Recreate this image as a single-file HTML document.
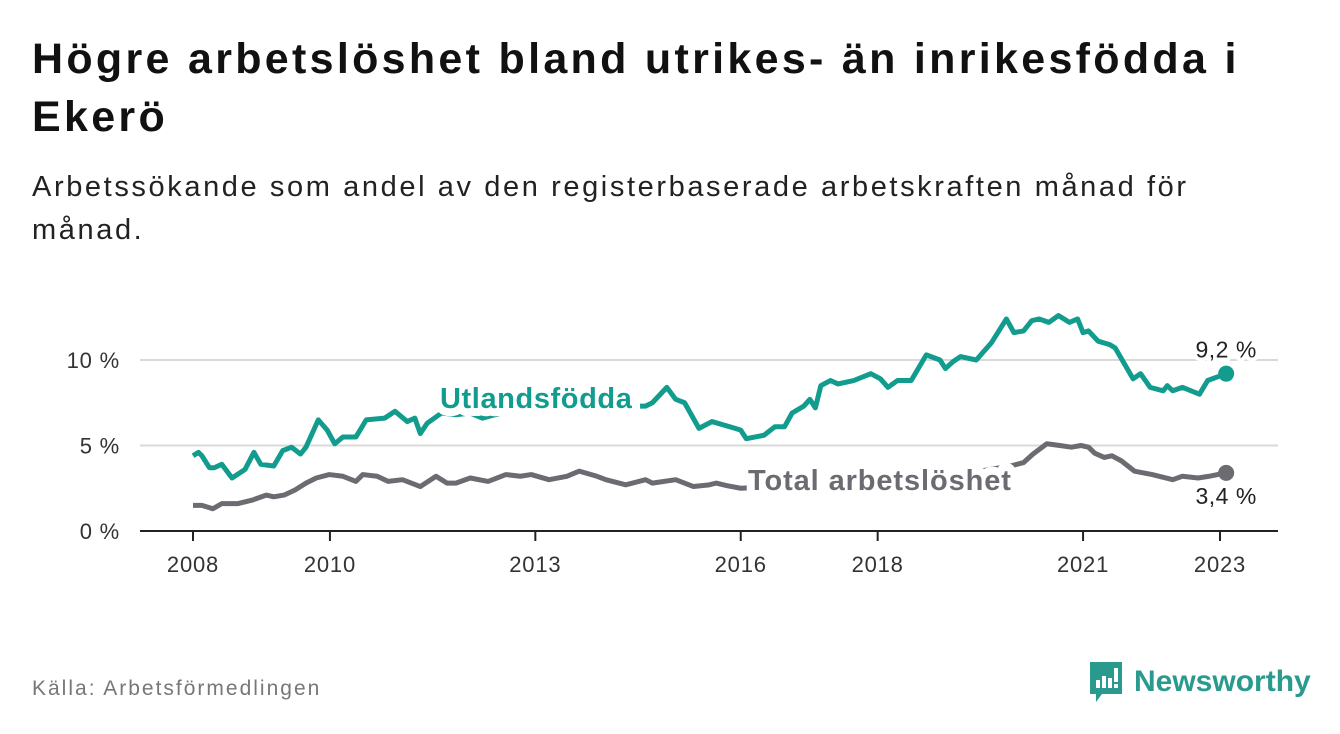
<!DOCTYPE html>
<html><head><meta charset="utf-8">
<style>
body{margin:0;background:#fff;width:1340px;height:734px;overflow:hidden;font-family:"Liberation Sans","DejaVu Sans",sans-serif;}
.t{position:absolute;left:32px;top:30px;font-size:43px;font-weight:bold;color:#111;line-height:58px;width:1300px;letter-spacing:3.3px;white-space:nowrap;}
.s{position:absolute;left:32px;top:166px;font-size:29px;color:#222;line-height:43px;width:1300px;letter-spacing:2.6px;white-space:nowrap;}
.src{position:absolute;left:32px;top:677px;font-size:21px;color:#777;letter-spacing:2px;}
.logo{position:absolute;left:1088px;top:660px;display:flex;align-items:center;}
</style></head><body>
<div class="t">Högre arbetslöshet bland utrikes- än inrikesfödda i<br>Ekerö</div>
<div class="s">Arbetssökande som andel av den registerbaserade arbetskraften månad för<br>månad.</div>
<div class="src">Källa: Arbetsförmedlingen</div>
<div class="logo">
<svg width="36" height="44"><path d="M2 2h32v32H14l-6 8v-8H2z" fill="#2a9a8f"/><rect x="8" y="20" width="4" height="8" fill="#fff"/><rect x="14" y="16" width="4" height="12" fill="#fff"/><rect x="20" y="18" width="4" height="10" fill="#fff"/><rect x="26" y="8" width="4" height="14" fill="#fff"/><rect x="26" y="24" width="4" height="4" fill="#fff"/></svg>
<span style="font-size:30px;font-weight:bold;color:#2a9a8f;margin-left:10px">Newsworthy</span></div>
<svg id="c" width="1340" height="734" style="position:absolute;left:0;top:0"></svg>
<script>
const yTicks=[0,5,10];
const yTickLabels=["0 %","5 %","10 %"];
const xTicks=[2008,2010,2013,2016,2018,2021,2023];
const foreignDates=[2008.0,2008.08,2008.13,2008.24,2008.31,2008.42,2008.57,2008.76,2008.89,2008.99,2009.18,2009.31,2009.44,2009.57,2009.65,2009.83,2009.96,2010.07,2010.19,2010.38,2010.53,2010.8,2010.95,2011.13,2011.24,2011.32,2011.42,2011.63,2011.84,2012.05,2012.23,2012.41,2012.7,2013.1,2013.5,2013.9,2014.3,2014.61,2014.71,2014.92,2015.05,2015.18,2015.39,2015.58,2015.92,2016.0,2016.08,2016.34,2016.5,2016.64,2016.75,2016.92,2017.01,2017.09,2017.17,2017.31,2017.42,2017.65,2017.9,2018.04,2018.15,2018.29,2018.49,2018.71,2018.91,2018.99,2019.1,2019.21,2019.44,2019.66,2019.88,2019.99,2020.13,2020.25,2020.36,2020.5,2020.64,2020.8,2020.92,2021.0,2021.08,2021.22,2021.39,2021.47,2021.73,2021.84,2021.98,2022.17,2022.23,2022.31,2022.45,2022.7,2022.82,2023.09];
const foreignValues=[4.4,4.6,4.4,3.7,3.7,3.9,3.1,3.6,4.6,3.9,3.8,4.7,4.9,4.5,4.9,6.5,5.9,5.1,5.5,5.5,6.5,6.6,7.0,6.4,6.6,5.7,6.3,6.9,6.8,6.9,6.6,6.8,7.1,7.3,7.2,7.4,7.3,7.3,7.5,8.4,7.7,7.5,6.0,6.4,6.0,5.9,5.4,5.6,6.1,6.1,6.9,7.3,7.7,7.2,8.5,8.8,8.6,8.8,9.2,8.9,8.4,8.8,8.8,10.3,10.0,9.5,9.9,10.2,10.0,11.0,12.4,11.6,11.7,12.3,12.4,12.2,12.6,12.2,12.4,11.6,11.7,11.1,10.9,10.7,8.9,9.2,8.4,8.2,8.5,8.2,8.4,8.0,8.8,9.2];
const totalDates=[2008.0,2008.13,2008.29,2008.42,2008.65,2008.86,2009.07,2009.18,2009.33,2009.49,2009.65,2009.8,2009.99,2010.19,2010.38,2010.48,2010.69,2010.85,2011.06,2011.32,2011.55,2011.71,2011.84,2012.05,2012.31,2012.57,2012.78,2012.94,2013.2,2013.46,2013.64,2013.9,2014.03,2014.32,2014.61,2014.71,2015.05,2015.31,2015.54,2015.64,2015.8,2016.0,2016.5,2017.0,2017.5,2018.0,2018.5,2019.0,2019.5,2019.94,2020.13,2020.27,2020.47,2020.66,2020.83,2020.97,2021.08,2021.17,2021.31,2021.42,2021.56,2021.75,2022.01,2022.31,2022.45,2022.68,2022.84,2023.09];
const totalValues=[1.5,1.5,1.3,1.6,1.6,1.8,2.1,2.0,2.1,2.4,2.8,3.1,3.3,3.2,2.9,3.3,3.2,2.9,3.0,2.6,3.2,2.8,2.8,3.1,2.9,3.3,3.2,3.3,3.0,3.2,3.5,3.2,3.0,2.7,3.0,2.8,3.0,2.6,2.7,2.8,2.65,2.5,2.6,2.6,2.7,2.9,3.0,3.2,3.5,3.8,4.0,4.5,5.1,5.0,4.9,5.0,4.9,4.55,4.3,4.4,4.1,3.5,3.3,3.0,3.2,3.1,3.2,3.4];
const NS="http://www.w3.org/2000/svg",svg=document.getElementById('c');
const x=d=>193+(d-2008)*(1220-193)/15;
const y=v=>531-v*17.1;
function mk(t,a,p){const e=document.createElementNS(NS,t);for(const k in a)e.setAttribute(k,a[k]);(p||svg).appendChild(e);return e;}
yTicks.forEach((v,i)=>{
 if(v>0){const g=mk('line',{x1:140,x2:1278,y1:y(v),y2:y(v),stroke:'#d9d9d9','stroke-width':2});
 
 }
 const t=mk('text',{x:120,y:y(v)+8,'text-anchor':'end','font-size':22,'letter-spacing':0.8,fill:'#333'});t.textContent=yTickLabels[i];
 
 
});
const ax=mk('line',{x1:140,x2:1278,y1:531,y2:531,stroke:'#222','stroke-width':2});


xTicks.forEach(d=>{
 mk('line',{x1:x(d),x2:x(d),y1:531,y2:541,stroke:'#222','stroke-width':2});
 const t=mk('text',{x:x(d),y:572,'text-anchor':'middle','font-size':22,'letter-spacing':0.8,fill:'#333'});t.textContent=d;
 
 
});
function line(ds,vs,col,name){
 const p=mk('polyline',{points:ds.map((d,i)=>x(d)+','+y(vs[i])).join(' '),fill:'none',stroke:col,'stroke-width':5,'stroke-linejoin':'round'});
 
 
 const n=ds.length-1;
 const c=mk('circle',{cx:x(ds[n]),cy:y(vs[n]),r:8,fill:col});
 
 
}
const teal='#119c8e',grey='#6c6b71';
line(foreignDates,foreignValues,teal,'line-utlandsfodda');
line(totalDates,totalValues,grey,'line-total');
function lab(txt,xx,yy,col,size,bold,name,anchor,ls,sw){
 const t=mk('text',{x:xx,y:yy,fill:col,'font-size':size,'font-weight':bold?'bold':'normal',stroke:'#fff','stroke-width':sw,'stroke-linejoin':'round','paint-order':'stroke','text-anchor':anchor||'start','letter-spacing':ls});
 t.textContent=txt;
 
 
}
lab('Utlandsfödda',440,408,teal,29,true,'series-label-utlandsfodda','start',0.6,16);
lab('Total arbetslöshet',748,490,grey,29,true,'series-label-total','start',0.9,16);
const nf=foreignDates.length-1,nt=totalDates.length-1;
lab(String(foreignValues[nf]).replace('.',',')+' %',x(foreignDates[nf]),y(foreignValues[nf])-16,'#222',23,false,'end-value-utlandsfodda','middle',0.5,8);
lab(String(totalValues[nt]).replace('.',',')+' %',x(totalDates[nt]),y(totalValues[nt])+31,'#222',23,false,'end-value-total','middle',0.5,8);
</script>
</body></html>
